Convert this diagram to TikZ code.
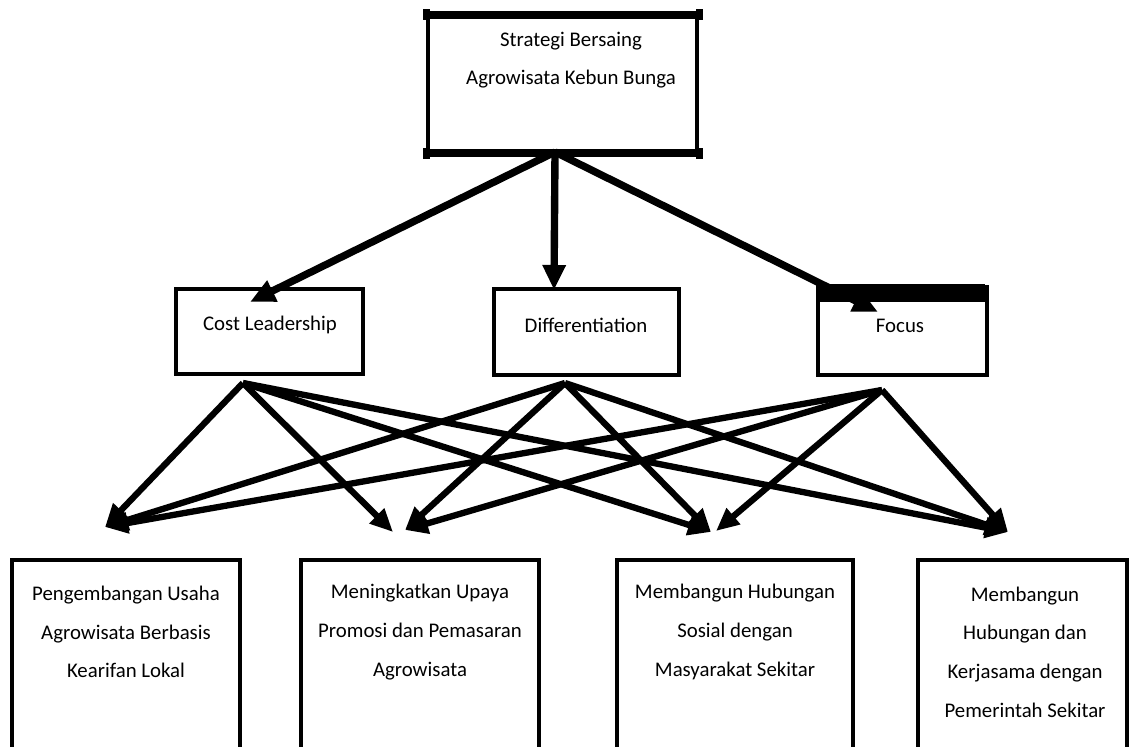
\documentclass[tikz,border=0pt]{standalone}
\usepackage{fontspec}
\setmainfont{Carlito}
\usetikzlibrary{arrows.meta}
\begin{document}
\begin{tikzpicture}[x=0.02cm,y=-0.02cm,
  box/.style={draw, line width=2pt, inner sep=0pt},
  lbl/.style={font=\fontsize{11.85}{22}\selectfont, align=center, inner sep=0pt},
  toparr/.style={line width=4.2pt, -{Triangle[length=0.5cm,width=0.44cm]}},
  arr/.style={line width=3.6pt, -{Triangle[length=0.46cm,width=0.4cm]}}]
\useasboundingbox (0,0) rectangle (1129,747);
\clip (0,0) rectangle (1129,747);

% top box
\node[box, line width=2.3pt, minimum width=5.38cm, minimum height=2.68cm] (top) at (562.5,84) {};
\draw[line width=4pt] (top.north west) -- (top.north east);
\draw[line width=4pt] (top.south west) -- (top.south east);
\foreach \c in {north west, north east, south west, south east}
  \fill (top.\c) ++(-3.5,-5.5) rectangle ++(7,11);
\node[lbl] (top-t) at (571,60) {Strategi Bersaing\\Agrowisata Kebun Bunga};

% middle boxes
\node[box, minimum width=3.74cm, minimum height=1.7cm] (cl) at (269.5,331.5) {};
\node[box, minimum width=3.7cm, minimum height=1.72cm] (diff) at (586.5,332) {};
\node[box, line width=2.3pt, minimum width=3.38cm, minimum height=1.76cm] (focus) at (902.5,331) {};
\fill (focus.north west) ++(0,-1) rectangle (985,302);
\node[lbl] (cl-t) at (270,325) {Cost Leadership};
\node[lbl] (diff-t) at (586,325) {Differentiation};
\node[lbl] (focus-t) at (900,326) {Focus};

% bottom boxes
\node[box, minimum width=4.56cm, minimum height=4.2cm] (b1) at (126,665) {};
\node[box, minimum width=4.76cm, minimum height=4.2cm] (b2) at (420,665) {};
\node[box, minimum width=4.72cm, minimum height=4.2cm] (b3) at (735,665) {};
\node[box, minimum width=4.18cm, minimum height=4.2cm] (b4) at (1022.5,665) {};
\node[lbl] (b1-t) at (126,632) {Pengembangan Usaha\\Agrowisata Berbasis\\Kearifan Lokal};
\node[lbl] (b2-t) at (420,632) {Meningkatkan Upaya\\Promosi dan Pemasaran\\Agrowisata};
\node[lbl] (b3-t) at (735,632) {Membangun Hubungan\\Sosial dengan\\Masyarakat Sekitar};
\node[lbl] (b4-t) at (1025,652) {Membangun\\Hubungan dan\\Kerjasama dengan\\Pemerintah Sekitar};

% connector points
\coordinate (top-out) at (555,152);
\coordinate (cl-in) at (250,302);
\coordinate (diff-in) at (554,290);
\coordinate (focus-in) at (878,312);
\coordinate (cl-out) at (243,383);
\coordinate (diff-out) at (565,383);
\coordinate (focus-out) at (882,390);
\coordinate (t1) at (105,527);
\coordinate (t2a) at (393,532);
\coordinate (t2b) at (405,530);
\coordinate (t3a) at (711,532);
\coordinate (t3b) at (716,531);
\coordinate (t4) at (1008,532);

% top arrows
\draw[toparr] (top-out) -- (cl-in);
\draw[toparr] (top-out) -- (diff-in);
\draw[toparr] (top-out) -- (focus-in);

% lower arrows
\foreach \s/\a/\b/\c/\d in {cl-out/t1/t2a/t3a/t4, diff-out/t1/t2b/t3a/t4, focus-out/t1/t2b/t3b/t4}{
  \draw[arr] (\s) -- (\a);
  \draw[arr] (\s) -- (\b);
  \draw[arr] (\s) -- (\c);
  \draw[arr] (\s) -- (\d);
}
\end{tikzpicture}
\end{document}
